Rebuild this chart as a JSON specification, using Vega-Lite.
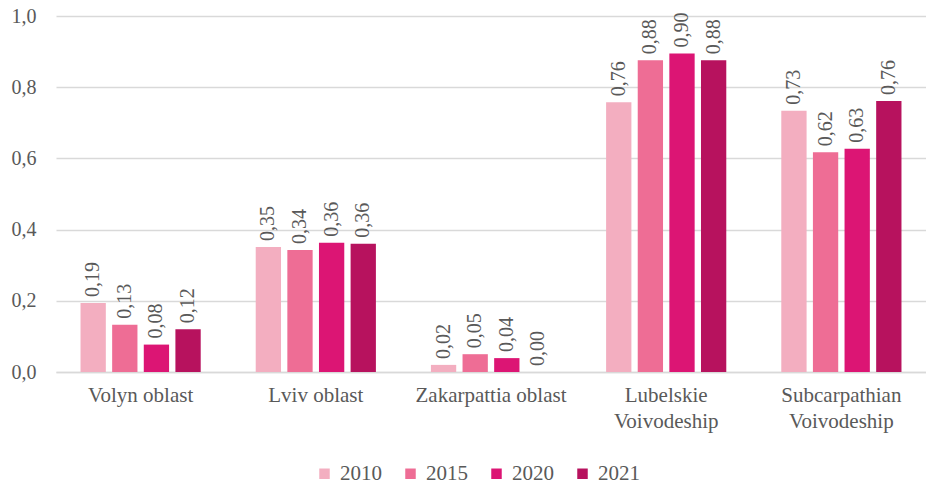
{
  "$schema": "https://vega.github.io/schema/vega-lite/v6.json",
  "width": 926,
  "height": 484,
  "autosize": {"type": "fit", "contains": "padding"},
  "padding": {"left": 11, "right": 0, "top": 6, "bottom": 53},
  "config": {
    "locale": {"number": {"decimal": ",", "thousands": " ", "grouping": [3], "currency": ["", ""]}},
    "font": "Liberation Serif",
    "text": {"font": "Liberation Serif"},
    "view": {"stroke": null}
  },
  "data": {
    "values": [
      {"region": "Volyn oblast", "year": "2010", "value": 0.194},
      {"region": "Volyn oblast", "year": "2015", "value": 0.133},
      {"region": "Volyn oblast", "year": "2020", "value": 0.077},
      {"region": "Volyn oblast", "year": "2021", "value": 0.12},
      {"region": "Lviv oblast", "year": "2010", "value": 0.351},
      {"region": "Lviv oblast", "year": "2015", "value": 0.343},
      {"region": "Lviv oblast", "year": "2020", "value": 0.363},
      {"region": "Lviv oblast", "year": "2021", "value": 0.36},
      {"region": "Zakarpattia oblast", "year": "2010", "value": 0.02},
      {"region": "Zakarpattia oblast", "year": "2015", "value": 0.05},
      {"region": "Zakarpattia oblast", "year": "2020", "value": 0.039},
      {"region": "Zakarpattia oblast", "year": "2021", "value": 0.0},
      {"region": "Lubelskie Voivodeship", "year": "2010", "value": 0.758},
      {"region": "Lubelskie Voivodeship", "year": "2015", "value": 0.876},
      {"region": "Lubelskie Voivodeship", "year": "2020", "value": 0.895},
      {"region": "Lubelskie Voivodeship", "year": "2021", "value": 0.876},
      {"region": "Subcarpathian Voivodeship", "year": "2010", "value": 0.734},
      {"region": "Subcarpathian Voivodeship", "year": "2015", "value": 0.617},
      {"region": "Subcarpathian Voivodeship", "year": "2020", "value": 0.627},
      {"region": "Subcarpathian Voivodeship", "year": "2021", "value": 0.761}
    ]
  },
  "encoding": {
    "x": {
      "field": "region",
      "type": "nominal",
      "sort": null,
      "scale": {"paddingInner": 0.314, "paddingOuter": 0.14},
      "axis": {
        "title": null,
        "labelAngle": 0,
        "labelFont": "Liberation Serif",
        "labelFontSize": 21,
        "labelColor": "#595959",
        "labelPadding": 12,
        "labelLineHeight": 26,
        "ticks": false,
        "domainColor": "#d9d9d9",
        "domainWidth": 1.5,
        "labelExpr": "indexof(datum.label, 'Voivodeship') > 0 ? split(datum.label, ' ') : datum.label"
      }
    },
    "xOffset": {
      "field": "year",
      "type": "nominal",
      "scale": {"paddingInner": 0.2, "paddingOuter": 0}
    },
    "y": {
      "field": "value",
      "type": "quantitative",
      "scale": {"domain": [0, 1]},
      "axis": {
        "title": null,
        "format": ".1f",
        "values": [0, 0.2, 0.4, 0.6, 0.8, 1.0],
        "labelFont": "Liberation Serif",
        "labelFontSize": 20,
        "labelColor": "#595959",
        "labelPadding": 20,
        "ticks": false,
        "domain": false,
        "gridColor": "#d9d9d9",
        "gridWidth": 1.5
      }
    }
  },
  "layer": [
    {
      "mark": {"type": "bar"},
      "encoding": {
        "color": {
          "field": "year",
          "type": "nominal",
          "scale": {"domain": ["2010", "2015", "2020", "2021"], "range": ["#F3AEC0", "#EE6D95", "#DC1574", "#B7125E"]},
          "legend": {
            "title": null,
            "orient": "none",
            "legendX": 258,
            "legendY": 447,
            "direction": "horizontal",
            "symbolType": "square",
            "symbolSize": 110,
            "symbolStrokeWidth": 0,
            "labelFont": "Liberation Serif",
            "labelFontSize": 21,
            "labelColor": "#595959",
            "columnPadding": 18,
            "labelOffset": 5
          }
        }
      }
    },
    {
      "mark": {"type": "text", "angle": 270, "align": "left", "baseline": "middle", "dx": 6, "font": "Liberation Serif", "fontSize": 20, "color": "#595959"},
      "encoding": {
        "text": {"field": "value", "type": "quantitative", "format": ".2f"}
      }
    }
  ]
}
